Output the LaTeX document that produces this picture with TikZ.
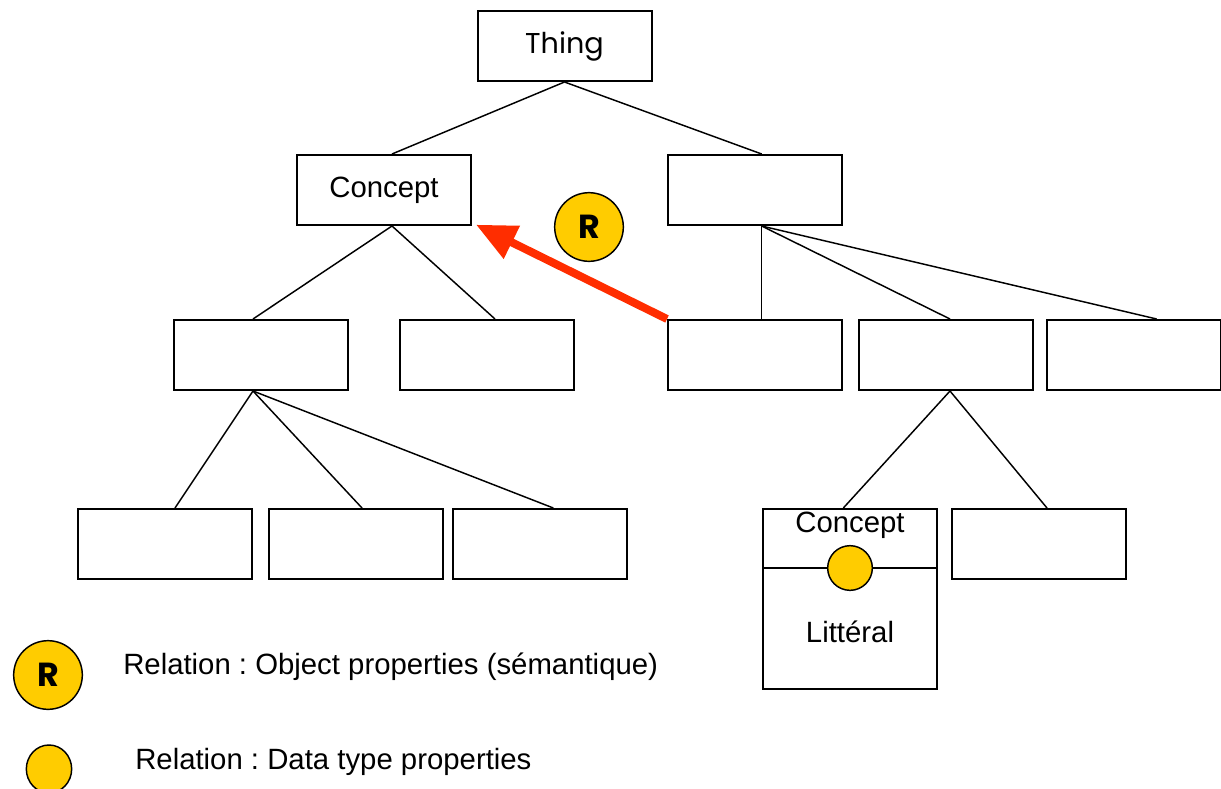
\documentclass[tikz,border=0pt]{standalone}
\usepackage{fontspec}
\setmainfont{Liberation Sans}
\newfontfamily\gothic{Poppins}
\usetikzlibrary{arrows.meta,shapes.geometric}
\definecolor{relyellow}{RGB}{255,204,0}
\definecolor{relred}{RGB}{255,45,0}
\frenchspacing

\begin{document}
\begin{tikzpicture}[x=0.75pt,y=0.75pt,yscale=-1,xscale=1,
  box/.style={draw, line width=1.5pt, minimum width=130.5pt, minimum height=52.5pt, inner sep=0pt, font=\fontsize{22}{24}\selectfont},
  link/.style={line width=1.1pt},
  txt/.style={inner sep=0pt, font=\fontsize{22}{24}\selectfont},
  rbadge/.style={circle, draw, fill=relyellow, line width=1.1pt, minimum size=51.5pt, inner sep=0pt, font=\gothic\bfseries\fontsize{25}{26}\selectfont},
  dtbadge/.style={ellipse, draw, fill=relyellow, line width=1.1pt, minimum width=#1, minimum height=#1, inner sep=0pt},
  relarrow/.style={relred, line width=6pt, -{Triangle[length=30pt,width=26pt]}}]
\useasboundingbox (0,0) rectangle (1221,789);

% Text Node
\node [box, font=\gothic\fontsize{21.5}{24}\selectfont] (thing) at (564.5,46) {Thing};
% level 1
\node [box] (concept) at (384,190) {Concept};
\node [box] (right) at (755,190) {};
% level 2
\node [box] (la) at (261,355) {};
\node [box] (lb) at (487,355) {};
\node [box] (rc) at (755,355) {};
\node [box] (rd) at (946,355) {};
\node [box] (re) at (1134,355) {};
% level 3
\node [box] (lf) at (165,544) {};
\node [box] (lg) at (356,544) {};
\node [box] (lh) at (540,544) {};
\node [box, minimum height=135pt] (lit) at (850,599) {};
\node [box] (ri) at (1039,544) {};

% Text Node
\node [txt] (litconcept) at (850,525) {Concept};
\node [txt] (littext) at (850,632) {Littéral};
\node [dtbadge=33.5pt] (litdot) at (850,568) {};
\draw [link] (lit.west |- litdot) -- (litdot.west);
\draw [link] (litdot.east) -- (lit.east |- litdot);

%Straight Lines
\draw [link] (thing.south) -- ([xshift=6pt]concept.north);
\draw [link] (thing.south) -- ([xshift=5pt]right.north);
\draw [link] ([xshift=6pt]concept.south) -- ([xshift=-6pt]la.north);
\draw [link] ([xshift=6pt]concept.south) -- ([xshift=6pt]lb.north);
\draw [link] ([xshift=5pt]right.south) -- ([xshift=5pt]rc.north);
\draw [link] ([xshift=5pt]right.south) -- ([xshift=3pt]rd.north);
\draw [link] ([xshift=5pt]right.south) -- ([xshift=17pt]re.north);
\draw [link] ([xshift=-6pt]la.south) -- ([xshift=7.5pt]lf.north);
\draw [link] ([xshift=-6pt]la.south) -- ([xshift=4.5pt]lg.north);
\draw [link] ([xshift=-6pt]la.south) -- ([xshift=10pt]lh.north);
\draw [link] ([xshift=3pt]rd.south) -- ([xshift=-5pt]lit.north);
\draw [link] ([xshift=3pt]rd.south) -- ([xshift=6pt]ri.north);

% Object property
\node [rbadge] (rel) at (589,227) {R};
\draw [relarrow] (rc.north west) -- ([xshift=3pt,yshift=-1pt]concept.south east);

% Legend
\node [rbadge] (legr) at (48,675) {R};
\node [txt, anchor=west] (legrtext) at (123,667) {Relation : Object properties (sémantique)};
\node [dtbadge=34pt, minimum height=36pt] (legdot) at (49,769) {};
\node [txt, anchor=west] (legdottext) at (135,762) {Relation : Data type properties};

\end{tikzpicture}
\end{document}
